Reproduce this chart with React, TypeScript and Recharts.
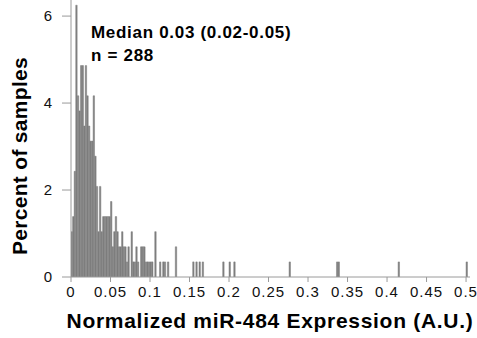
import React from 'react';
import { BarChart, Bar, XAxis, YAxis, Label } from 'recharts';

const BIN_WIDTH = 0.002;
const TOTAL_SAMPLES = 288;

// left edge of every bin that holds samples (A.U.)
const binStarts = [
  0, 0.002, 0.004, 0.006, 0.008, 0.01, 0.012, 0.014, 0.016, 0.018,
  0.02, 0.022, 0.024, 0.026, 0.028, 0.03, 0.032, 0.034, 0.036, 0.038,
  0.04, 0.042, 0.044, 0.046, 0.048, 0.05, 0.052, 0.054, 0.056, 0.058,
  0.06, 0.062, 0.064, 0.066, 0.068, 0.07, 0.072, 0.076, 0.078, 0.08,
  0.082, 0.084, 0.088, 0.09, 0.092, 0.094, 0.096, 0.098, 0.1, 0.102,
  0.106, 0.112, 0.116, 0.118, 0.122, 0.132, 0.154, 0.158, 0.162, 0.166,
  0.192, 0.2, 0.206, 0.276, 0.336, 0.338, 0.414, 0.5,
];
// number of samples in each bin
const sampleCounts = [
  3, 4, 7, 18, 12, 11, 14, 14, 10, 14,
  12, 10, 9, 9, 12, 8, 6, 3, 6, 3,
  4, 4, 4, 4, 4, 5, 2, 3, 4, 3,
  2, 2, 3, 2, 2, 1, 2, 3, 1, 1,
  2, 1, 2, 2, 2, 1, 1, 1, 1, 1,
  3, 1, 1, 1, 1, 2, 1, 1, 1, 1,
  1, 1, 1, 1, 1, 1, 1, 1,
];

const xTicks = [0, 0.05, 0.1, 0.15, 0.2, 0.25, 0.3, 0.35, 0.4, 0.45, 0.5];
const yTicks = [0, 2, 4, 6];

const data = binStarts.map((start, i) => ({
  x: start + BIN_WIDTH / 2,
  pct: (sampleCounts[i] / TOTAL_SAMPLES) * 100,
}));

const FONT = '"Liberation Sans", Arial, Helvetica, sans-serif';
const AXIS = '#9a9a9a';
const TITLE = { fill: '#000', fontSize: 21, fontWeight: 'bold' as const, fontFamily: FONT };

export default function App() {
  return (
    <div style={{ position: 'absolute', left: 0, top: 0, width: 477, height: 338, background: '#fff', fontFamily: FONT }}>
      <BarChart
        width={477}
        height={338}
        data={data}
        margin={{ top: 0, right: 7, bottom: 0, left: 0 }}
        barCategoryGap={0}
      >
        <XAxis
          dataKey="x"
          type="number"
          domain={[0, 0.505]}
          ticks={xTicks}
          allowDataOverflow
          height={61}
          tickSize={5}
          tickMargin={4}
          stroke={AXIS}
          tick={{ fill: '#111', fontSize: 15, fontFamily: FONT, letterSpacing: 1 }}
          tickLine={{ stroke: AXIS }}
        >
          <Label
            content={() => (
              <text x={270} y={328} textAnchor="middle" style={{ ...TITLE, letterSpacing: 0.7 }}>
                Normalized miR-484 Expression (A.U.)
              </text>
            )}
          />
        </XAxis>
        <YAxis
          type="number"
          domain={[0, 6.37]}
          ticks={yTicks}
          allowDataOverflow
          width={71}
          tickSize={9}
          tickMargin={10}
          stroke={AXIS}
          tick={{ fill: '#111', fontSize: 15, fontFamily: FONT }}
          tickLine={{ stroke: AXIS }}
        >
          <Label
            content={() => (
              <text
                x={27}
                y={156}
                textAnchor="middle"
                transform="rotate(-90 27 156)"
                style={{ ...TITLE, letterSpacing: 0.3 }}
              >
                Percent of samples
              </text>
            )}
          />
        </YAxis>
        <Bar
          dataKey="pct"
          fill="#7f7f7f"
          stroke="#7f7f7f"
          strokeWidth={0.5}
          barSize={1.6}
          isAnimationActive={false}
        />
      </BarChart>
      <div style={{ position: 'absolute', left: 91, top: 21, fontSize: 17, fontWeight: 'bold', lineHeight: '23px', letterSpacing: 0.7, color: '#000' }}>
        <div>Median 0.03 (0.02-0.05)</div>
        <div>n = 288</div>
      </div>
    </div>
  );
}
